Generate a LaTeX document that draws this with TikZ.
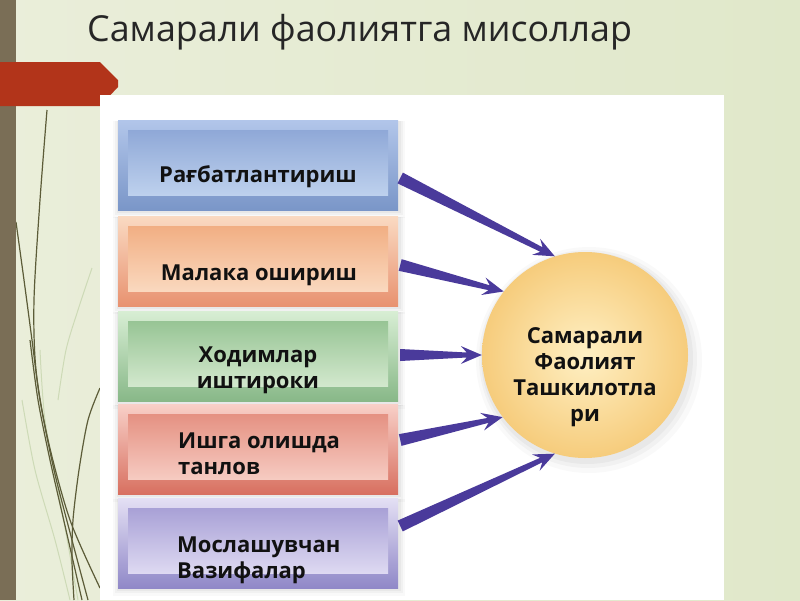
\documentclass[tikz,border=0pt]{standalone}
\usepackage{fontspec}
\setmainfont{Open Sans}
\usetikzlibrary{calc}
\definecolor{bgL}{RGB}{234,238,218}
\definecolor{bgR}{RGB}{224,232,202}
\definecolor{strip}{RGB}{122,110,86}
\definecolor{tab}{RGB}{178,52,26}
\definecolor{grass}{RGB}{92,92,56}
\definecolor{grassf}{RGB}{205,218,182}
\definecolor{titlec}{RGB}{38,38,38}
\definecolor{arrowc}{RGB}{74,58,155}
\definecolor{txt}{RGB}{17,17,17}
% box colours: outer top, outer bottom, inner top, inner bottom
\definecolor{bOT}{RGB}{178,198,234}\definecolor{bOB}{RGB}{122,150,200}
\definecolor{bIT}{RGB}{136,162,212}\definecolor{bIB}{RGB}{200,218,242}
\definecolor{oOT}{RGB}{250,218,194}\definecolor{oOB}{RGB}{232,146,112}
\definecolor{oIT}{RGB}{240,168,122}\definecolor{oIB}{RGB}{252,226,204}
\definecolor{gOT}{RGB}{216,238,212}\definecolor{gOB}{RGB}{136,184,136}
\definecolor{gIT}{RGB}{142,191,140}\definecolor{gIB}{RGB}{224,240,218}
\definecolor{rOT}{RGB}{248,208,200}\definecolor{rOB}{RGB}{216,112,96}
\definecolor{rIT}{RGB}{226,136,120}\definecolor{rIB}{RGB}{250,216,208}
\definecolor{pOT}{RGB}{228,224,244}\definecolor{pOB}{RGB}{144,136,200}
\definecolor{pIT}{RGB}{160,152,210}\definecolor{pIB}{RGB}{234,230,248}
\definecolor{cIn}{RGB}{255,240,196}
\definecolor{cOut}{RGB}{246,204,124}
\newcommand\myarrow[2]{%
  \coordinate (tn) at ($(#2)!15pt!(#1)$);
  \coordinate (tm) at ($(#2)!21pt!(#1)$);
  \fill[arrowc] ($(#1)!6pt!90:(#2)$) -- ($(tn)!2.5pt!90:(#2)$) -- ($(tm)!9pt!90:(#2)$) -- (#2)
     -- ($(tm)!9pt!-90:(#2)$) -- ($(tn)!2.5pt!-90:(#2)$) -- ($(#1)!6pt!-90:(#2)$) -- cycle;}
\begin{document}
\begin{tikzpicture}[x=1pt,y=-1pt,
  sbox/.style n args={4}{rectangle, minimum width=280pt, minimum height=90pt, inner sep=0pt,
    top color=#1, bottom color=#2,
    path picture={\shade[top color=#3,bottom color=#4]
      ($(path picture bounding box.north west)+(10,10)$) rectangle
      ($(path picture bounding box.south east)+(-10,-15)$);}},
  lbl/.style={font=\fontsize{22}{28}\selectfont\bfseries, text=txt, inner sep=0pt},
  grassl/.style={draw=grass, line width=1.2pt},
  grassfl/.style={draw=grassf, line width=1pt}]
\useasboundingbox (0,0) rectangle (800,600);
% background
\shade[left color=bgL, right color=bgR] (0,0) rectangle (800,600);
% grass lines
\draw[grassfl] plot[smooth] coordinates {(92,268) (78,310) (66,350) (58,400)};
\draw[grassfl] plot[smooth] coordinates {(22,400) (35,470) (55,540) (70,600)};
\draw[grassfl] plot[smooth] coordinates {(40,350) (45,420) (60,500) (78,600)};
\draw[grassl] plot[smooth] coordinates {(47,110) (40,200) (34,300) (36,370) (48,440) (70,520) (100,588)};
\draw[grassl] plot[smooth] coordinates {(16,222) (24,280) (32,340) (40,400) (54,470) (72,540) (88,600)};
\draw[grassl] plot[smooth] coordinates {(30,340) (38,400) (50,460) (66,530) (82,600)};
\draw[grassl] plot[smooth] coordinates {(100,388) (88,420) (79,470) (73,520) (72,560) (74,600)};
% left strip
\fill[strip] (0,0) rectangle (16,600);
% red tab
\fill[tab] (0,62) -- (100,62) -- (118,80) -- (118,87) -- (100,106) -- (0,106) -- cycle;
% white panel
\fill[white] (100,95) rectangle (724,600);
% title
\node[anchor=base west, inner sep=0pt, text=titlec, font=\fontsize{35.8}{42}\selectfont] (title) at (87,41) {Самарали фаолиятга мисоллар};
% soft shadows of boxes
\foreach \cy in {165,261,356,449,543}{
  \fill[black,opacity=0.025] (113,\cy-44) rectangle (405,\cy+53);
  \fill[black,opacity=0.03] (115,\cy-44) rectangle (403,\cy+50);
  \fill[black,opacity=0.035] (117,\cy-44) rectangle (401,\cy+48);
}
% circle glow
\fill[black,opacity=0.025] (589,360) circle (113pt);
\fill[black,opacity=0.03] (588,359) circle (109pt);
\fill[black,opacity=0.035] (587,358) circle (106pt);
% boxes
\node[sbox={bOT}{bOB}{bIT}{bIB}] (b1) at (258,165) {};
\node[sbox={oOT}{oOB}{oIT}{oIB}] (b2) at (258,261) {};
\node[sbox={gOT}{gOB}{gIT}{gIB}] (b3) at (258,356) {};
\node[sbox={rOT}{rOB}{rIT}{rIB}] (b4) at (258,449) {};
\node[sbox={pOT}{pOB}{pIT}{pIB}] (b5) at (258,543) {};
% box labels
\node[lbl, anchor=base] (l1) at (258,182) {Рағбатлантириш};
\node[lbl, anchor=base] (l2) at (259,280) {Малака ошириш};
\node[lbl, anchor=base] (l3a) at (258,362) {Ходимлар};
\node[lbl, anchor=base] (l3b) at (258,388) {иштироки};
\node[lbl, anchor=base west] (l4a) at (178,448) {Ишга олишда};
\node[lbl, anchor=base west] (l4b) at (178,474) {танлов};
\node[lbl, anchor=base west] (l5a) at (177,552) {Мослашувчан};
\node[lbl, anchor=base west] (l5b) at (177,578) {Вазифалар};
% circle
\node[circle, minimum size=206pt, inner sep=0pt, inner color=cIn, outer color=cOut] (c) at (585,355) {};
\node[lbl, anchor=base] (c1) at (585,343) {Самарали};
\node[lbl, anchor=base] (c2) at (585,369) {Фаолият};
\node[lbl, anchor=base] (c3) at (585,395) {Ташкилотла};
\node[lbl, anchor=base] (c4) at (585,421) {ри};
% arrow start points
\coordinate (s1) at ($(b1.east)+(2,13)$);
\coordinate (s2) at ($(b2.east)+(2,4)$);
\coordinate (s3) at ($(b3.east)+(2,-1)$);
\coordinate (s4) at ($(b4.east)+(2,-9)$);
\coordinate (s5) at ($(b5.east)+(2,-17)$);
\myarrow{s1}{c.107}
\myarrow{s2}{c.142}
\myarrow{s3}{c.180}
\myarrow{s4}{c.217}
\myarrow{s5}{c.253}
\end{tikzpicture}
\end{document}
